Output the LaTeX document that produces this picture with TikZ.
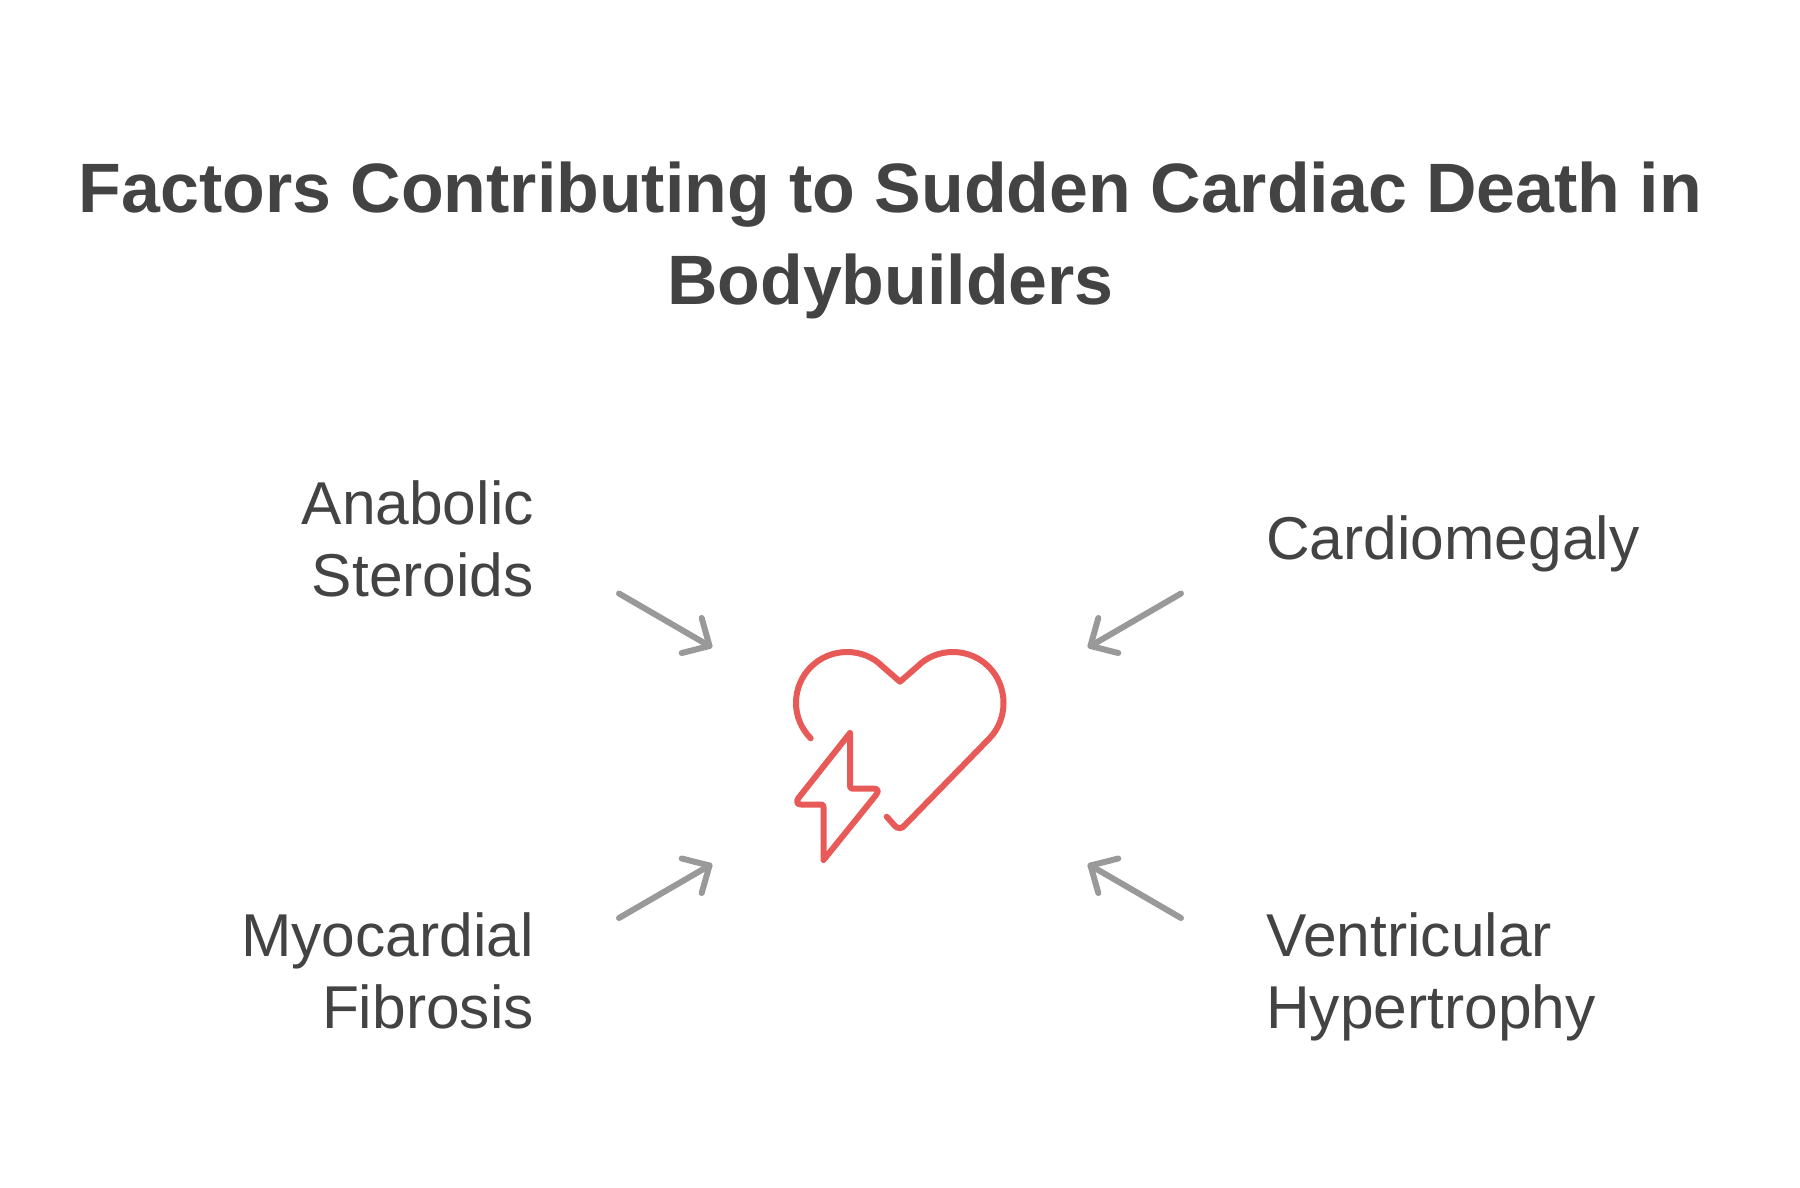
\documentclass[tikz,border=0pt]{standalone}
\usepackage{fontspec}
\setmainfont{Liberation Sans}
\definecolor{ink}{HTML}{434343}
\definecolor{arrowgrey}{HTML}{999999}
\definecolor{heartred}{HTML}{E85A57}
\tikzset{
  titletext/.style={font=\fontsize{69.9}{92}\selectfont\bfseries,text=ink,anchor=base,inner sep=0pt},
  labeltext/.style={font=\fontsize{60.5}{72}\selectfont,text=ink,inner sep=0pt},
  leftlabel/.style={labeltext,anchor=base east},
  rightlabel/.style={labeltext,anchor=base west},
  factorarrow/.style={draw=arrowgrey,line width=6pt,line cap=round,line join=round},
  iconline/.style={draw=heartred,line width=6pt,line cap=round,line join=round}
}
\begin{document}
\begin{tikzpicture}[x=1pt,y=-1pt]
\useasboundingbox (0,0) rectangle (1800,1188);
\fill[white] (0,0) rectangle (1800,1188);
\node[titletext] (title1) at (890.5,212) {Factors Contributing to Sudden Cardiac Death in};
\node[titletext] (title2) at (890.5,304) {Bodybuilders};
\node[leftlabel] (a1) at (534,524) {Anabolic};
\node[leftlabel] (a2) at (534,596) {Steroids};
\node[rightlabel] (c1) at (1266,559) {Cardiomegaly};
\node[leftlabel] (m1) at (534,956) {Myocardial};
\node[leftlabel] (m2) at (534,1028) {Fibrosis};
\node[rightlabel] (v1) at (1266,956) {Ventricular};
\node[rightlabel] (v2) at (1266,1028) {Hypertrophy};
% arrows
\coordinate (s1) at (619,593.5); \coordinate (t1) at (709.5,646);
\coordinate (s2) at (1181,593.5); \coordinate (t2) at (1090.5,646);
\coordinate (s3) at (619,918); \coordinate (t3) at (709.5,865.5);
\coordinate (s4) at (1181,918); \coordinate (t4) at (1090.5,865.5);
\draw[factorarrow] (s1) -- (t1);
\draw[factorarrow] (701.7,618) -- (t1) -- (681.7,653);
\draw[factorarrow] (s2) -- (t2);
\draw[factorarrow] (1098.3,618) -- (t2) -- (1118.3,653);
\draw[factorarrow] (s3) -- (t3);
\draw[factorarrow] (701.7,893) -- (t3) -- (681.7,858.5);
\draw[factorarrow] (s4) -- (t4);
\draw[factorarrow] (1098.3,893) -- (t4) -- (1118.3,858.5);
% heart
\draw[iconline] (810.7,738.3) .. controls (801.5,729) and (796,716.5) .. (796,703)
  .. controls (796,674.5) and (819,652) .. (847,652)
  .. controls (860.5,652) and (873,657) .. (882,666)
  -- (900,681.7) -- (918,666)
  .. controls (927,657) and (939.5,652) .. (953,652)
  .. controls (981,652) and (1003.5,674.5) .. (1003.5,703)
  .. controls (1003.5,716.5) and (998.5,729) .. (989.5,738.3)
  -- (905,825) .. controls (902,829) and (898,829) .. (895,826)
  -- (886.7,816.7);
% bolt
\draw[iconline] (850,733) -- (850,786) .. controls (850,788) and (851,788.5) .. (852,788.5)
  -- (873,788.5) .. controls (878,788.5) and (879,791) .. (876,795)
  -- (823.5,860) -- (823.5,807) .. controls (823.5,805) and (822.5,804.5) .. (821,804.5)
  -- (801,804.5) .. controls (797,804.5) and (796,801.5) .. (798.5,798)
  -- cycle;
\end{tikzpicture}
\end{document}
